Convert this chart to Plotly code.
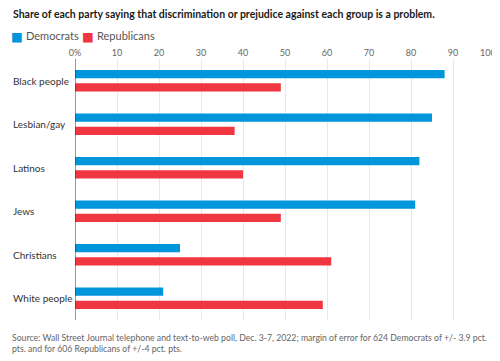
import plotly.graph_objects as go

categories = ["Black people", "Lesbian/gay", "Latinos", "Jews", "Christians", "White people"]
democrats = [88, 85, 82, 81, 25, 21]
republicans = [49, 38, 40, 49, 61, 59]
tick_vals = [0, 10, 20, 30, 40, 50, 60, 70, 80, 90, 100]
tick_text = ["0%", "10", "20", "30", "40", "50", "60", "70", "80", "90", "100"]
series_names = ["Democrats", "Republicans"]
title_text = "Share of each party saying that discrimination or prejudice against each group is a problem."
source_lines = [
    "Source: Wall Street Journal telephone and text-to-web poll, Dec. 3-7, 2022; margin of error for 624 Democrats of +/- 3.9 pct.",
    "pts. and for 606 Republicans of +/-4 pct. pts.",
]

BLUE = "#0096db"
RED = "#f03641"
FONT = "Lato, Roboto, sans-serif"
TICK_FONT = dict(family=FONT, size=9, color="#666")

# page body has an 8px margin; work in reference pixel coordinates and subtract it
OFF = 8
W, H = 500 - OFF, 361 - OFF
PL, PR, PT, PB = 75.3, 495, 59, 320   # plot area in reference pixels
ML, MR, MT = PL - OFF, W - (PR - OFF), PT - OFF
MB = H - (PB - OFF)
PW, PH = W - ML - MR, H - MT - MB

def px_x(p):
    return (p - OFF - ML) / PW

def px_y(p):
    return 1 - (p - OFF - MT) / PH

# the last tick label is right-aligned at its gridline (kept inside the page, as in the reference)
axis_tick_text = tick_text[:-1] + [""]

fig = go.Figure()
fig.add_trace(go.Bar(
    y=categories, x=democrats, orientation="h", name=series_names[0],
    marker=dict(color=BLUE, line=dict(width=0)),
    width=0.185, offset=-0.245, hoverinfo="x+y",
))
fig.add_trace(go.Bar(
    y=categories, x=republicans, orientation="h", name=series_names[1],
    marker=dict(color=RED, line=dict(width=0)),
    width=0.185, offset=0.06, hoverinfo="x+y",
))

annotations = []
annotations.append(dict(
    text=f"<b>{title_text}</b>", xref="paper", yref="paper",
    x=px_x(11), y=px_y(14), xanchor="left", yanchor="middle",
    showarrow=False, font=dict(family=FONT, size=10.5, color="#1a1a1a"),
))
for name, color, sx, tx in zip(series_names, [BLUE, RED], [9.5, 80.5], [24, 95]):
    annotations.append(dict(
        text="■", xref="paper", yref="paper", x=px_x(sx), y=px_y(36.5),
        xanchor="left", yanchor="middle", showarrow=False,
        font=dict(family="DejaVu Sans", size=12.5, color=color),
    ))
    annotations.append(dict(
        text=name, xref="paper", yref="paper", x=px_x(tx), y=px_y(36),
        xanchor="left", yanchor="middle", showarrow=False,
        font=dict(family=FONT, size=11, color="#555"),
    ))
annotations.append(dict(
    text=tick_text[-1], xref="x", yref="paper", x=tick_vals[-1], y=px_y(52.5),
    xanchor="right", yanchor="middle", xshift=3, showarrow=False, font=TICK_FONT,
))
for cat in categories:
    annotations.append(dict(
        text=cat, xref="paper", yref="y", x=px_x(11.5), y=cat,
        xanchor="left", yanchor="middle", showarrow=False,
        font=dict(family=FONT, size=10, color="#333"),
    ))
annotations.append(dict(
    text="<br>".join(source_lines), xref="paper", yref="paper",
    x=px_x(10), y=px_y(330), xanchor="left", yanchor="top", align="left",
    showarrow=False, font=dict(family=FONT, size=8.7, color="#666"),
))

fig.update_layout(
    width=W, height=H,
    margin=dict(l=ML, r=MR, t=MT, b=MB, pad=0, autoexpand=False),
    paper_bgcolor="white", plot_bgcolor="white",
    showlegend=False, barmode="overlay",
    annotations=annotations,
    font=dict(family=FONT),
    xaxis=dict(
        range=[0, 100], side="top", tickvals=tick_vals, ticktext=axis_tick_text,
        showgrid=True, gridcolor="#e8e8e8", gridwidth=1,
        zeroline=False, showline=False, ticks="", automargin=False,
        tickfont=TICK_FONT, fixedrange=True,
    ),
    yaxis=dict(
        categoryorder="array", categoryarray=categories, autorange="reversed",
        showticklabels=False, showgrid=False, zeroline=False, ticks="",
        automargin=False, fixedrange=True,
    ),
    shapes=[dict(type="line", xref="x", yref="paper", x0=0, x1=0, y0=0, y1=1,
                 line=dict(color="#333", width=1))],
)

fig.write_html("out.html")
